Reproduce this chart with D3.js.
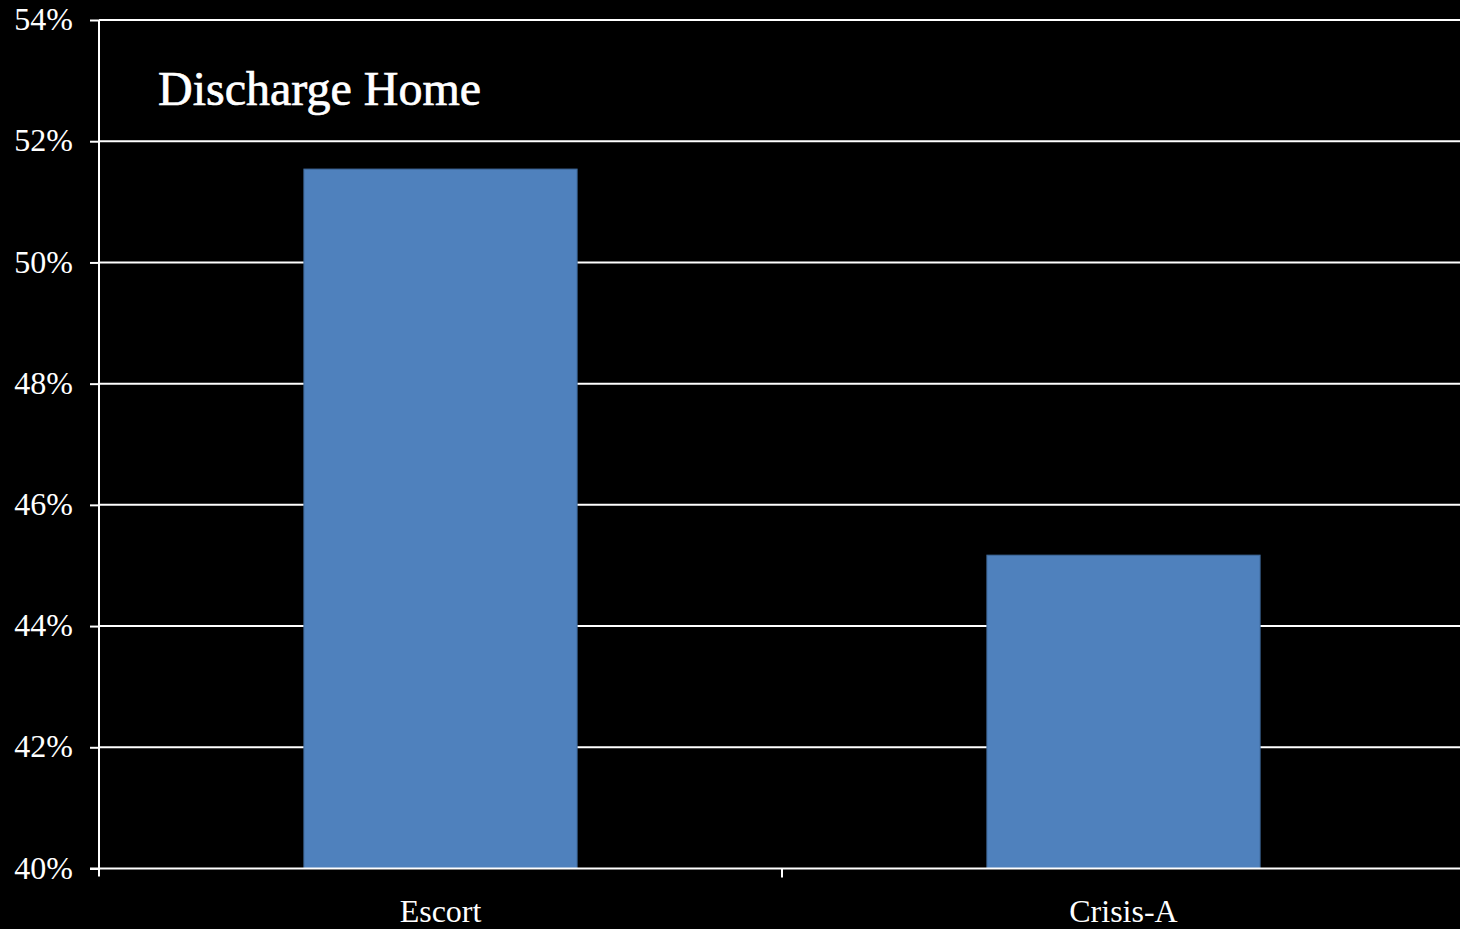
<!DOCTYPE html>
<html>
<head>
<meta charset="utf-8">
<script src="https://cdn.jsdelivr.net/npm/d3@7"></script>
<style>
  html, body { margin: 0; padding: 0; background: #000; }
  svg { display: block; }
</style>
</head>
<body>
<svg id="chart" width="1460" height="929"></svg>
<script>
const categories = ["Escort", "Crisis-A"];
const values = [51.54, 45.17];
const yTicks = [40, 42, 44, 46, 48, 50, 52, 54];
const title = "Discharge Home";

const W = 1460, H = 929;
const margin = { left: 99, top: 20, bottom: 868.5, right: 1465 };
const svg = d3.select("#chart");
svg.append("rect").attr("width", W).attr("height", H).attr("fill", "#000");

const x = d3.scaleBand().domain(categories).range([margin.left, margin.right]).padding(0);
const y = d3.scaleLinear().domain([40, 54]).range([margin.bottom, margin.top]);

const font = "'Liberation Serif', 'Times New Roman', serif";

// gridlines
svg.append("g").selectAll("line").data(yTicks.filter(d => d > 40)).join("line")
  .attr("x1", margin.left).attr("x2", W)
  .attr("y1", d => y(d)).attr("y2", d => y(d))
  .attr("stroke", "#ffffff").attr("stroke-width", 2);

// bars
const bw = x.bandwidth() * 0.4;
svg.append("g").selectAll("rect").data(categories).join("rect")
  .attr("x", d => x(d) + x.bandwidth() / 2 - bw / 2)
  .attr("width", bw)
  .attr("y", (d, i) => y(values[i]))
  .attr("height", (d, i) => y(40) - y(values[i]))
  .attr("fill", "#4F81BD")
  .attr("stroke", "#3F6A9C")
  .attr("stroke-width", 1);

// y axis
const yAxis = d3.axisLeft(y).tickValues(yTicks).tickSize(9).tickPadding(17)
  .tickFormat(d => d + "%");
const gy = svg.append("g").attr("transform", `translate(${margin.left},0)`).call(yAxis);
gy.select(".domain").remove();
gy.selectAll(".tick line").attr("stroke", "#fff").attr("stroke-width", 2);
gy.selectAll(".tick text").attr("fill", "#fff").style("font-family", font).style("font-size", "32px")
  .attr("dy", "0.3em");
svg.append("line").attr("x1", margin.left).attr("x2", margin.left)
  .attr("y1", margin.top).attr("y2", margin.bottom + 8)
  .attr("stroke", "#fff").attr("stroke-width", 2);

// x axis
svg.append("line").attr("x1", margin.left - 9).attr("x2", W)
  .attr("y1", margin.bottom).attr("y2", margin.bottom)
  .attr("stroke", "#fff").attr("stroke-width", 2);
// category boundary ticks
svg.append("g").selectAll("line").data(categories.slice(1)).join("line")
  .attr("x1", d => x(d)).attr("x2", d => x(d))
  .attr("y1", margin.bottom).attr("y2", margin.bottom + 9)
  .attr("stroke", "#fff").attr("stroke-width", 2);
svg.append("g").selectAll("text").data(categories).join("text")
  .attr("x", d => x(d) + x.bandwidth() / 2)
  .attr("y", 921.5)
  .attr("text-anchor", "middle")
  .attr("fill", "#fff")
  .style("font-family", font).style("font-size", "32px")
  .text(d => d);

// title
svg.append("text").attr("x", 158).attr("y", 105)
  .attr("fill", "#fff")
  .attr("stroke", "#fff").attr("stroke-width", 0.7)
  .style("font-family", font).style("font-size", "48px")
  .text(title);
</script>
</body>
</html>
